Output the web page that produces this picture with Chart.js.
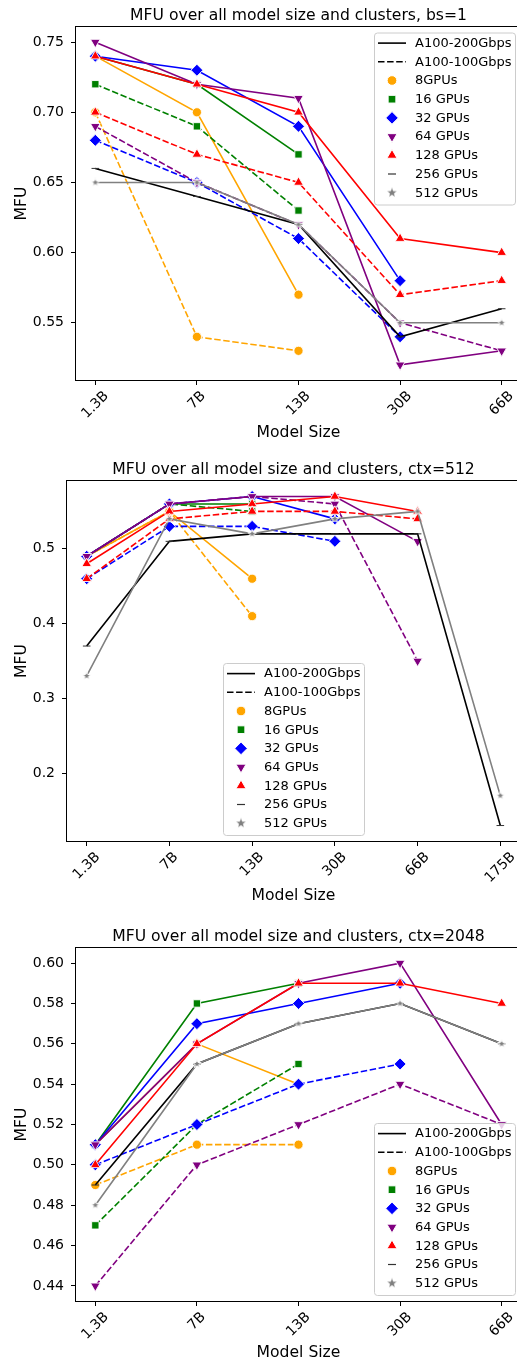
<!DOCTYPE html>
<html>
<head>
<meta charset="utf-8">
<title>MFU over all model size and clusters</title>
<script src="https://cdn.jsdelivr.net/npm/chart.js@4.4.1/dist/chart.umd.min.js"></script>
<style>
  html, body { margin: 0; padding: 0; background: #fff; overflow: hidden; }
  body { width: 517px; height: 1366px; position: relative; }
  canvas { position: absolute; left: 0; }
</style>
</head>
<body>
<canvas id="bsChart" width="540" height="455" style="top:0px;width:540px;height:455px"></canvas>
<canvas id="ctx512Chart" width="540" height="465" style="top:455px;width:540px;height:465px"></canvas>
<canvas id="ctx2048Chart" width="540" height="446" style="top:920px;width:540px;height:446px"></canvas>
<script>
// ---- data: bs=1 ----
const bs1Sizes = ['1.3B', '7B', '13B', '30B', '66B'];
const bs1Ticks = [0.55, 0.60, 0.65, 0.70, 0.75];
const bs1Gpu8Fast = [0.74, 0.70, 0.57];
const bs1Gpu8Slow = [0.70, 0.54, 0.53];
const bs1Gpu16Fast = [0.74, 0.72, 0.67];
const bs1Gpu16Slow = [0.72, 0.69, 0.63];
const bs1Gpu32Fast = [0.74, 0.73, 0.69, 0.58];
const bs1Gpu32Slow = [0.68, 0.65, 0.61, 0.54];
const bs1Gpu64Fast = [0.75, 0.72, 0.71, 0.52, 0.53];
const bs1Gpu64Slow = [0.69, 0.65, 0.62, 0.55, 0.53];
const bs1Gpu128Fast = [0.74, 0.72, 0.70, 0.61, 0.60];
const bs1Gpu128Slow = [0.70, 0.67, 0.65, 0.57, 0.58];
const bs1Gpu256Fast = [0.66, 0.64, 0.62, 0.54, 0.56];
const bs1Gpu512Fast = [0.65, 0.65, 0.62, 0.55, 0.55];

// ---- data: ctx=512 ----
const c512Sizes = ['1.3B', '7B', '13B', '30B', '66B', '175B'];
const c512Ticks = [0.2, 0.3, 0.4, 0.5];
const c512Gpu8Fast = [0.49, 0.55, 0.46];
const c512Gpu8Slow = [0.49, 0.55, 0.41];
const c512Gpu16Fast = [0.49, 0.56, 0.56];
const c512Gpu16Slow = [0.49, 0.56, 0.55];
const c512Gpu32Fast = [0.49, 0.56, 0.57, 0.54];
const c512Gpu32Slow = [0.46, 0.53, 0.53, 0.51];
const c512Gpu64Fast = [0.49, 0.56, 0.57, 0.57, 0.51];
const c512Gpu64Slow = [0.49, 0.56, 0.57, 0.56, 0.35];
const c512Gpu128Fast = [0.48, 0.55, 0.56, 0.57, 0.55];
const c512Gpu128Slow = [0.46, 0.54, 0.55, 0.55, 0.54];
const c512Gpu256Fast = [0.37, 0.51, 0.52, 0.52, 0.52, 0.13];
const c512Gpu512Fast = [0.33, 0.54, 0.52, 0.54, 0.55, 0.17];

// ---- data: ctx=2048 ----
const c2048Sizes = ['1.3B', '7B', '13B', '30B', '66B'];
const c2048Ticks = [0.44, 0.46, 0.48, 0.50, 0.52, 0.54, 0.56, 0.58, 0.60];
const c2048Gpu8Fast = [0.51, 0.56, 0.54];
const c2048Gpu8Slow = [0.49, 0.51, 0.51];
const c2048Gpu16Fast = [0.51, 0.58, 0.59];
const c2048Gpu16Slow = [0.47, 0.52, 0.55];
const c2048Gpu32Fast = [0.51, 0.57, 0.58, 0.59];
const c2048Gpu32Slow = [0.50, 0.52, 0.54, 0.55];
const c2048Gpu64Fast = [0.51, 0.56, 0.59, 0.60, 0.52];
const c2048Gpu64Slow = [0.44, 0.50, 0.52, 0.54, 0.52];
const c2048Gpu128Fast = [0.50, 0.56, 0.59, 0.59, 0.58];
const c2048Gpu256Fast = [0.49, 0.55, 0.57, 0.58, 0.56];
const c2048Gpu512Fast = [0.48, 0.55, 0.57, 0.58, 0.56];

// legend text
const networkLabels = ['A100-200Gbps', 'A100-100Gbps'];
const gpuCounts = [8, 16, 32, 64, 128, 256, 512];
const gpuLabels = ['8GPUs', '16 GPUs', '32 GPUs', '64 GPUs', '128 GPUs', '256 GPUs', '512 GPUs'];

const FONT = '"DejaVu Sans", sans-serif';
const DASH = [6.5, 2.6];

// small filled star, white edge eats the arms like in matplotlib
function starImage(size, edge) {
    const c = document.createElement('canvas');
    c.width = c.height = size;
    const g = c.getContext('2d');
    const cx = size / 2, ro = size / 2 - 0.6, ri = ro * 0.42;
    g.beginPath();
    for (let k = 0; k < 10; k++) {
        const r = k % 2 ? ri : ro;
        const a = -Math.PI / 2 + k * Math.PI / 5;
        g.lineTo(cx + r * Math.cos(a), cx + r * Math.sin(a));
    }
    g.closePath();
    g.fillStyle = 'grey';
    g.fill();
    g.strokeStyle = '#fff';
    g.lineWidth = edge;
    g.stroke();
    return c;
}
const plotStar = starImage(10, 1.0);
const legendStar = starImage(12, 0.5);

// marker per cluster size
const gpuStyle = {
    8: { color: 'orange', point: 'circle', r: 4.6 },
    16: { color: 'green', point: 'rect', r: 5.2 },
    32: { color: 'blue', point: 'rectRot', r: 6 },
    64: { color: 'purple', point: 'triangle', r: 5.6, rot: 180 },
    128: { color: 'red', point: 'triangle', r: 5.6, rot: 0 },
    256: { color: 'black', point: 'line', r: 3.8 },
    512: { color: 'grey', point: plotStar, r: 5 }
};

function makeDatasets(list) {
    return list.map(function ([gpus, net, values], i) {
        const st = gpuStyle[gpus];
        return {
            label: gpus + ' GPUs ' + net,
            data: values.map((v, k) => ({ x: k, y: v })),
            borderColor: st.color,
            backgroundColor: st.color,
            borderWidth: 1.6,
            borderDash: net === 'slow' ? DASH : [],
            pointStyle: st.point,
            rotation: st.rot || 0,
            pointRadius: st.r,
            pointBackgroundColor: st.color,
            pointBorderColor: st.point === 'line' ? '#333' : '#fff',
            pointBorderWidth: st.point === 'line' ? 1 : 0.9,
            order: -i,
            tension: 0
        };
    });
}

function drawMarker(ctx, st, x, y) {
    ctx.save();
    ctx.fillStyle = st.color;
    if (st.point === plotStar) {
        ctx.drawImage(legendStar, x - legendStar.width / 2, y - legendStar.height / 2);
    } else if (st.point === 'line') {
        ctx.strokeStyle = '#333';
        ctx.lineWidth = 1.2;
        ctx.beginPath();
        ctx.moveTo(x - 4, y);
        ctx.lineTo(x + 4, y);
        ctx.stroke();
    } else {
        ctx.strokeStyle = '#fff';
        Chart.helpers.drawPoint(ctx, { pointStyle: st.point, rotation: st.rot || 0, radius: st.r * 1.05, borderWidth: 0.5 }, x, y);
    }
    ctx.restore();
}

// titles, axis labels, rotated x ticks, spines and legend
function decor(cfg) {
    return {
        id: 'decor',
        afterDatasetsDraw(chart) {
            const { ctx, chartArea: a } = chart;
            ctx.save();
            ctx.strokeStyle = '#000';
            ctx.lineWidth = 1;
            ctx.strokeRect(a.left + 0.5, a.top + 0.5, a.right - a.left - 1, a.bottom - a.top - 1);
            ctx.restore();
        },
        afterDraw(chart) {
            const { ctx, chartArea: a } = chart;
            const cx = (a.left + a.right) / 2;
            ctx.save();
            ctx.fillStyle = '#000';

            ctx.font = '15.6px ' + FONT;
            ctx.textAlign = 'center';
            ctx.textBaseline = 'alphabetic';
            ctx.fillText(cfg.title, cx, a.top - 6);

            ctx.textBaseline = 'middle';
            ctx.fillText('Model Size', cx, a.bottom + cfg.xLabelOffset);

            ctx.save();
            ctx.translate(22, (a.top + a.bottom) / 2);
            ctx.rotate(-Math.PI / 2);
            ctx.fillText('MFU', 0, 0);
            ctx.restore();

            // x tick labels, rotated 45 and centred like matplotlib
            ctx.font = '14px ' + FONT;
            cfg.sizes.forEach(function (lab, k) {
                const px = chart.scales.x.getPixelForValue(k);
                const w = ctx.measureText(lab).width;
                const d = (w + 14 * 1.164) * Math.SQRT1_2;
                ctx.save();
                ctx.translate(px, a.bottom + 7 + d / 2);
                ctx.rotate(-Math.PI / 4);
                ctx.fillText(lab, 0, 0);
                ctx.restore();
            });

            // legend
            const lw = 141, lh = 172;
            let lx, ly;
            if (cfg.legend === 'ur') { lx = a.right - 7 - lw; ly = a.top + 6.5; }
            else if (cfg.legend === 'lc') { lx = cx - lw / 2; ly = a.bottom - 7 - lh; }
            else { lx = a.right - 7 - lw; ly = a.bottom - 7 - lh; }
            ctx.beginPath();
            ctx.roundRect(lx + 0.5, ly + 0.5, lw, lh, 3);
            ctx.fillStyle = 'rgba(255,255,255,0.8)';
            ctx.fill();
            ctx.strokeStyle = '#cccccc';
            ctx.lineWidth = 1;
            ctx.stroke();

            ctx.font = '13px ' + FONT;
            ctx.textAlign = 'left';
            ctx.textBaseline = 'middle';
            const rows = networkLabels.length + gpuLabels.length;
            for (let i = 0; i < rows; i++) {
                const ry = ly + 10.6 + i * 18.7;
                if (i < networkLabels.length) {
                    ctx.save();
                    ctx.strokeStyle = '#000';
                    ctx.lineWidth = 1.6;
                    ctx.setLineDash(i === 1 ? DASH : []);
                    ctx.beginPath();
                    ctx.moveTo(lx + 4, ry);
                    ctx.lineTo(lx + 32, ry);
                    ctx.stroke();
                    ctx.restore();
                    ctx.fillStyle = '#000';
                    ctx.fillText(networkLabels[i], lx + 41, ry + 0.5);
                } else {
                    const g = i - networkLabels.length;
                    drawMarker(ctx, gpuStyle[gpuCounts[g]], lx + 18, ry);
                    ctx.fillStyle = '#000';
                    ctx.fillText(gpuLabels[g], lx + 41, ry + 0.5);
                }
            }
            ctx.restore();
        }
    };
}

function makeChart(id, cfg) {
    const canvas = document.getElementById(id);
    const n = cfg.sizes.length;
    const all = cfg.series.flatMap(s => s[2]);
    const lo = Math.min(...all), hi = Math.max(...all);
    const pad = (hi - lo) * 0.05;
    const tickGrid = { display: true, drawOnChartArea: false, drawTicks: true, tickLength: 4, color: '#000', lineWidth: 1 };
    return new Chart(canvas, {
        type: 'line',
        data: { datasets: makeDatasets(cfg.series) },
        options: {
            responsive: false,
            animation: false,
            events: [],
            layout: { padding: { left: 0, top: cfg.area.top, right: canvas.width - cfg.area.right, bottom: 0 } },
            plugins: { legend: { display: false }, tooltip: { enabled: false }, title: { display: false } },
            scales: {
                x: {
                    type: 'linear',
                    min: -0.05 * (n - 1),
                    max: (n - 1) * 1.05,
                    afterBuildTicks: s => { s.ticks = cfg.sizes.map((_, k) => ({ value: k })); },
                    afterFit: s => { s.height = canvas.height - cfg.area.bottom; },
                    ticks: { display: false },
                    grid: tickGrid,
                    border: { display: false }
                },
                y: {
                    type: 'linear',
                    min: lo - pad,
                    max: hi + pad,
                    afterBuildTicks: s => { s.ticks = cfg.yTicks.map(v => ({ value: v })); },
                    afterFit: s => { s.width = cfg.area.left; },
                    ticks: {
                        autoSkip: false,
                        color: '#000',
                        padding: 7,
                        font: { family: FONT, size: 14 },
                        callback: v => v.toFixed(cfg.decimals)
                    },
                    grid: tickGrid,
                    border: { display: false }
                }
            }
        },
        plugins: [decor(cfg)]
    });
}

makeChart('bsChart', {
    title: 'MFU over all model size and clusters, bs=1',
    sizes: bs1Sizes,
    yTicks: bs1Ticks,
    decimals: 2,
    area: { left: 75, top: 26, right: 522, bottom: 381 },
    xLabelOffset: 52,
    legend: 'ur',
    series: [
        [8, 'fast', bs1Gpu8Fast], [8, 'slow', bs1Gpu8Slow],
        [16, 'fast', bs1Gpu16Fast], [16, 'slow', bs1Gpu16Slow],
        [32, 'fast', bs1Gpu32Fast], [32, 'slow', bs1Gpu32Slow],
        [64, 'fast', bs1Gpu64Fast], [64, 'slow', bs1Gpu64Slow],
        [128, 'fast', bs1Gpu128Fast], [128, 'slow', bs1Gpu128Slow],
        [256, 'fast', bs1Gpu256Fast],
        [512, 'fast', bs1Gpu512Fast]
    ]
});

makeChart('ctx512Chart', {
    title: 'MFU over all model size and clusters, ctx=512',
    sizes: c512Sizes,
    yTicks: c512Ticks,
    decimals: 1,
    area: { left: 66, top: 25, right: 521, bottom: 387 },
    xLabelOffset: 54,
    legend: 'lc',
    series: [
        [8, 'fast', c512Gpu8Fast], [8, 'slow', c512Gpu8Slow],
        [16, 'fast', c512Gpu16Fast], [16, 'slow', c512Gpu16Slow],
        [32, 'fast', c512Gpu32Fast], [32, 'slow', c512Gpu32Slow],
        [64, 'fast', c512Gpu64Fast], [64, 'slow', c512Gpu64Slow],
        [128, 'fast', c512Gpu128Fast], [128, 'slow', c512Gpu128Slow],
        [256, 'fast', c512Gpu256Fast],
        [512, 'fast', c512Gpu512Fast]
    ]
});

makeChart('ctx2048Chart', {
    title: 'MFU over all model size and clusters, ctx=2048',
    sizes: c2048Sizes,
    yTicks: c2048Ticks,
    decimals: 2,
    area: { left: 75, top: 27, right: 522, bottom: 382 },
    xLabelOffset: 51,
    legend: 'lr',
    series: [
        [8, 'fast', c2048Gpu8Fast], [8, 'slow', c2048Gpu8Slow],
        [16, 'fast', c2048Gpu16Fast], [16, 'slow', c2048Gpu16Slow],
        [32, 'fast', c2048Gpu32Fast], [32, 'slow', c2048Gpu32Slow],
        [64, 'fast', c2048Gpu64Fast], [64, 'slow', c2048Gpu64Slow],
        [128, 'fast', c2048Gpu128Fast],
        [256, 'fast', c2048Gpu256Fast],
        [512, 'fast', c2048Gpu512Fast]
    ]
});
</script>
</body>
</html>
